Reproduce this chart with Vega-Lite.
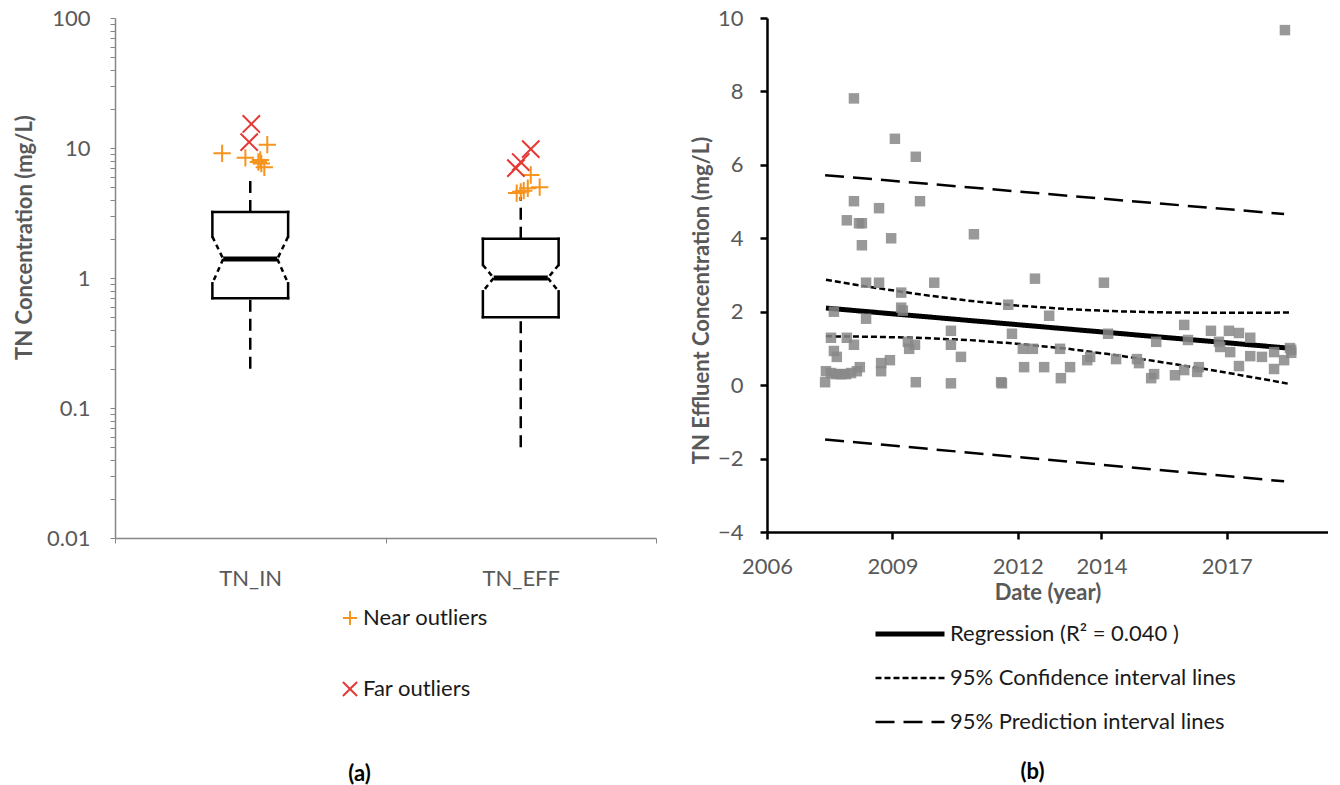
{
  "$schema": "https://vega.github.io/schema/vega-lite/v6.json",
  "autosize": {"type": "pad"},
  "padding": {"left": 13, "top": 7, "right": 0, "bottom": 0},
  "background": "white",
  "spacing": 111,
  "bounds": "flush",
  "config": {
    "view": {"stroke": null},
    "font": "Lato",
    "axis": {
      "grid": false,
      "labelFont": "Lato",
      "titleFont": "Lato",
      "labelColor": "#595959",
      "titleColor": "#595959",
      "labelFontSize": 22,
      "titleFontSize": 22,
      "titleFontWeight": "bold"
    },
    "legend": {"labelFont": "Lato", "labelFontSize": 22, "labelColor": "#1a1a1a", "labelLimit": 500}
  },
  "datasets": {
    "boxes": [
      {"group": "TN_IN", "wlo": 0.2, "q1": 0.7, "nlo": 0.91, "med": 1.4, "nhi": 2.08, "q3": 3.22, "whi": 6.2},
      {"group": "TN_EFF", "wlo": 0.05, "q1": 0.5, "nlo": 0.79, "med": 1.0, "nhi": 1.26, "q3": 2.0, "whi": 4.2}
    ],
    "outliers": [
      {"group": "TN_IN", "kind": "Near outliers", "value": 9.1, "jitter": -0.104},
      {"group": "TN_IN", "kind": "Near outliers", "value": 8.4, "jitter": -0.018},
      {"group": "TN_IN", "kind": "Near outliers", "value": 10.6, "jitter": 0.063},
      {"group": "TN_IN", "kind": "Near outliers", "value": 8.1, "jitter": 0.037},
      {"group": "TN_IN", "kind": "Near outliers", "value": 7.8, "jitter": 0.03},
      {"group": "TN_IN", "kind": "Near outliers", "value": 7.6, "jitter": 0.041},
      {"group": "TN_IN", "kind": "Near outliers", "value": 7.1, "jitter": 0.052},
      {"group": "TN_IN", "kind": "Far outliers", "value": 15.3, "jitter": 0.004},
      {"group": "TN_IN", "kind": "Far outliers", "value": 11.1, "jitter": -0.004},
      {"group": "TN_EFF", "kind": "Near outliers", "value": 6.2, "jitter": 0.037},
      {"group": "TN_EFF", "kind": "Near outliers", "value": 5.0, "jitter": 0.07},
      {"group": "TN_EFF", "kind": "Near outliers", "value": 4.9, "jitter": 0.026},
      {"group": "TN_EFF", "kind": "Near outliers", "value": 4.7, "jitter": 0.011},
      {"group": "TN_EFF", "kind": "Near outliers", "value": 4.6, "jitter": 0.0},
      {"group": "TN_EFF", "kind": "Near outliers", "value": 4.5, "jitter": -0.015},
      {"group": "TN_EFF", "kind": "Far outliers", "value": 9.8, "jitter": 0.037},
      {"group": "TN_EFF", "kind": "Far outliers", "value": 7.8, "jitter": 0.0},
      {"group": "TN_EFF", "kind": "Far outliers", "value": 7.0, "jitter": -0.018}
    ],
    "fits": [
      {"series": "Regression (R² = 0.040 )", "bound": "fit", "year": 2007.41, "tn": 2.1},
      {"series": "Regression (R² = 0.040 )", "bound": "fit", "year": 2018.56, "tn": 1.0},
      {"series": "95% Confidence interval lines", "bound": "upper", "year": 2007.41, "tn": 2.87},
      {"series": "95% Confidence interval lines", "bound": "upper", "year": 2008.42, "tn": 2.68},
      {"series": "95% Confidence interval lines", "bound": "upper", "year": 2009.61, "tn": 2.48},
      {"series": "95% Confidence interval lines", "bound": "upper", "year": 2010.81, "tn": 2.3},
      {"series": "95% Confidence interval lines", "bound": "upper", "year": 2011.96, "tn": 2.17},
      {"series": "95% Confidence interval lines", "bound": "upper", "year": 2013.2, "tn": 2.07},
      {"series": "95% Confidence interval lines", "bound": "upper", "year": 2014.4, "tn": 2.01},
      {"series": "95% Confidence interval lines", "bound": "upper", "year": 2015.59, "tn": 1.98},
      {"series": "95% Confidence interval lines", "bound": "upper", "year": 2016.79, "tn": 1.97},
      {"series": "95% Confidence interval lines", "bound": "upper", "year": 2017.99, "tn": 1.97},
      {"series": "95% Confidence interval lines", "bound": "upper", "year": 2018.51, "tn": 1.98},
      {"series": "95% Confidence interval lines", "bound": "lower", "year": 2007.41, "tn": 1.33},
      {"series": "95% Confidence interval lines", "bound": "lower", "year": 2008.42, "tn": 1.32},
      {"series": "95% Confidence interval lines", "bound": "lower", "year": 2009.61, "tn": 1.29},
      {"series": "95% Confidence interval lines", "bound": "lower", "year": 2010.81, "tn": 1.23},
      {"series": "95% Confidence interval lines", "bound": "lower", "year": 2011.96, "tn": 1.13},
      {"series": "95% Confidence interval lines", "bound": "lower", "year": 2013.2, "tn": 0.99},
      {"series": "95% Confidence interval lines", "bound": "lower", "year": 2014.4, "tn": 0.81},
      {"series": "95% Confidence interval lines", "bound": "lower", "year": 2015.59, "tn": 0.6},
      {"series": "95% Confidence interval lines", "bound": "lower", "year": 2016.79, "tn": 0.38},
      {"series": "95% Confidence interval lines", "bound": "lower", "year": 2017.99, "tn": 0.14},
      {"series": "95% Confidence interval lines", "bound": "lower", "year": 2018.51, "tn": 0.03},
      {"series": "95% Prediction interval lines", "bound": "upper", "year": 2007.39, "tn": 5.72},
      {"series": "95% Prediction interval lines", "bound": "upper", "year": 2018.37, "tn": 4.66},
      {"series": "95% Prediction interval lines", "bound": "lower", "year": 2007.39, "tn": -1.48},
      {"series": "95% Prediction interval lines", "bound": "lower", "year": 2018.37, "tn": -2.62}
    ],
    "samples": [
      {"year": 2007.39, "tn": 0.08}, {"year": 2007.41, "tn": 0.38}, {"year": 2007.53, "tn": 0.33},
      {"year": 2007.65, "tn": 0.3}, {"year": 2007.77, "tn": 0.3}, {"year": 2007.89, "tn": 0.3},
      {"year": 2008.01, "tn": 0.33}, {"year": 2007.53, "tn": 1.29}, {"year": 2007.91, "tn": 1.29},
      {"year": 2007.6, "tn": 2.0}, {"year": 2007.6, "tn": 0.93}, {"year": 2007.67, "tn": 0.77},
      {"year": 2008.08, "tn": 1.1}, {"year": 2008.08, "tn": 7.81}, {"year": 2008.08, "tn": 5.01},
      {"year": 2007.91, "tn": 4.49}, {"year": 2008.2, "tn": 4.41}, {"year": 2008.27, "tn": 4.41},
      {"year": 2008.27, "tn": 3.81}, {"year": 2008.15, "tn": 0.38}, {"year": 2008.22, "tn": 0.49},
      {"year": 2008.37, "tn": 2.79}, {"year": 2008.37, "tn": 1.81}, {"year": 2008.68, "tn": 4.82},
      {"year": 2008.68, "tn": 2.79}, {"year": 2008.73, "tn": 0.6}, {"year": 2008.73, "tn": 0.38},
      {"year": 2008.94, "tn": 0.68}, {"year": 2008.97, "tn": 4.0}, {"year": 2009.06, "tn": 6.71},
      {"year": 2009.21, "tn": 2.52}, {"year": 2009.21, "tn": 2.11}, {"year": 2009.25, "tn": 2.03},
      {"year": 2009.37, "tn": 1.18}, {"year": 2009.4, "tn": 0.99}, {"year": 2009.54, "tn": 1.1},
      {"year": 2009.56, "tn": 6.22}, {"year": 2009.56, "tn": 0.08}, {"year": 2009.66, "tn": 5.01},
      {"year": 2010.0, "tn": 2.79}, {"year": 2010.4, "tn": 1.48}, {"year": 2010.4, "tn": 1.1},
      {"year": 2010.4, "tn": 0.05}, {"year": 2010.64, "tn": 0.77}, {"year": 2010.95, "tn": 4.11},
      {"year": 2011.6, "tn": 0.08}, {"year": 2011.62, "tn": 0.05}, {"year": 2011.77, "tn": 2.19},
      {"year": 2011.86, "tn": 1.4}, {"year": 2012.12, "tn": 0.99}, {"year": 2012.36, "tn": 0.99},
      {"year": 2012.15, "tn": 0.49}, {"year": 2012.41, "tn": 2.9}, {"year": 2012.63, "tn": 0.49},
      {"year": 2012.75, "tn": 1.89}, {"year": 2013.01, "tn": 0.99}, {"year": 2013.03, "tn": 0.19},
      {"year": 2013.25, "tn": 0.49}, {"year": 2013.66, "tn": 0.68}, {"year": 2013.73, "tn": 0.77},
      {"year": 2014.06, "tn": 2.79}, {"year": 2014.16, "tn": 1.4}, {"year": 2014.35, "tn": 0.71},
      {"year": 2014.85, "tn": 0.71}, {"year": 2014.9, "tn": 0.6}, {"year": 2015.19, "tn": 0.19},
      {"year": 2015.26, "tn": 0.3}, {"year": 2015.31, "tn": 1.18}, {"year": 2015.76, "tn": 0.27},
      {"year": 2015.98, "tn": 1.64}, {"year": 2015.98, "tn": 0.41}, {"year": 2016.07, "tn": 1.23},
      {"year": 2016.29, "tn": 0.36}, {"year": 2016.33, "tn": 0.49}, {"year": 2016.62, "tn": 1.48},
      {"year": 2016.81, "tn": 1.18}, {"year": 2016.84, "tn": 1.04}, {"year": 2017.05, "tn": 1.48},
      {"year": 2017.08, "tn": 0.9}, {"year": 2017.29, "tn": 1.42}, {"year": 2017.29, "tn": 0.52},
      {"year": 2017.56, "tn": 1.29}, {"year": 2017.56, "tn": 0.79}, {"year": 2017.84, "tn": 0.77},
      {"year": 2018.13, "tn": 0.9}, {"year": 2018.13, "tn": 0.44}, {"year": 2018.37, "tn": 0.68},
      {"year": 2018.39, "tn": 9.67}, {"year": 2018.54, "tn": 0.96}, {"year": 2018.54, "tn": 0.88},
      {"year": 2018.51, "tn": 1.01}
    ]
  },
  "hconcat": [
    {
      "width": 541,
      "height": 520,
      "title": {"text": "(a)", "orient": "bottom", "anchor": "middle", "dx": -26, "offset": 175, "fontSize": 22, "fontWeight": "bold", "color": "#000000", "font": "Lato"},
      "layer": [
        {
          "data": {"name": "boxes"},
          "layer": [
            {
              "mark": {"type": "rule", "strokeDash": [12, 7], "strokeWidth": 2.5, "color": "black"},
              "encoding": {
                "x": {
                  "field": "group", "type": "nominal",
                  "scale": {"domain": ["TN_IN", "TN_EFF"], "paddingInner": 0, "paddingOuter": 0},
                  "axis": {"title": null, "labelAngle": 0, "domainColor": "#868686", "domainWidth": 1.5, "tickColor": "#868686", "tickBand": "extent", "tickSize": 5, "labelPadding": 25}
                },
                "y": {
                  "field": "wlo", "type": "quantitative",
                  "scale": {"type": "log", "domain": [0.01, 100], "nice": false},
                  "axis": {
                    "title": "TN Concentration (mg/L)",
                    "values": [0.01, 0.02, 0.03, 0.04, 0.05, 0.06, 0.07, 0.08, 0.09, 0.1, 0.2, 0.3, 0.4, 0.5, 0.6, 0.7, 0.8, 0.9, 1, 2, 3, 4, 5, 6, 7, 8, 9, 10, 20, 30, 40, 50, 60, 70, 80, 90, 100],
                    "format": "~g",
                    "labelExpr": "indexof([0.01, 0.1, 1, 10, 100], datum.value) >= 0 ? datum.label : ''",
                    "labelOverlap": false,
                    "labelFlush": false,
                    "tickSize": 5,
                    "tickColor": "#868686",
                    "domainColor": "#868686",
                    "domainWidth": 1.5,
                    "labelPadding": 20,
                    "titleX": -91,
                    "titleY": 219,
                    "titleBaseline": "middle"
                  }
                },
                "y2": {"field": "q1"}
              }
            },
            {
              "mark": {"type": "rule", "strokeDash": [12, 7], "strokeWidth": 2.5, "color": "black"},
              "encoding": {"x": {"field": "group", "type": "nominal"}, "y": {"field": "q3", "type": "quantitative"}, "y2": {"field": "whi"}}
            },
            {
              "mark": {"type": "rule", "strokeWidth": 2.5, "strokeCap": "square", "color": "black"},
              "encoding": {"x": {"field": "group", "type": "nominal", "bandPosition": 0.36}, "x2": {"field": "group", "bandPosition": 0.64}, "y": {"field": "q3", "type": "quantitative"}}
            },
            {
              "mark": {"type": "rule", "strokeWidth": 2.5, "strokeCap": "square", "color": "black"},
              "encoding": {"x": {"field": "group", "type": "nominal", "bandPosition": 0.36}, "x2": {"field": "group", "bandPosition": 0.64}, "y": {"field": "q1", "type": "quantitative"}}
            },
            {
              "mark": {"type": "rule", "strokeWidth": 2.5, "strokeCap": "square", "color": "black"},
              "encoding": {"x": {"field": "group", "type": "nominal", "bandPosition": 0.36}, "y": {"field": "q3", "type": "quantitative"}, "y2": {"field": "nhi"}}
            },
            {
              "mark": {"type": "rule", "strokeWidth": 2.5, "strokeCap": "square", "color": "black"},
              "encoding": {"x": {"field": "group", "type": "nominal", "bandPosition": 0.36}, "y": {"field": "nlo", "type": "quantitative"}, "y2": {"field": "q1"}}
            },
            {
              "mark": {"type": "rule", "strokeWidth": 2.5, "strokeCap": "square", "color": "black"},
              "encoding": {"x": {"field": "group", "type": "nominal", "bandPosition": 0.64}, "y": {"field": "q3", "type": "quantitative"}, "y2": {"field": "nhi"}}
            },
            {
              "mark": {"type": "rule", "strokeWidth": 2.5, "strokeCap": "square", "color": "black"},
              "encoding": {"x": {"field": "group", "type": "nominal", "bandPosition": 0.64}, "y": {"field": "nlo", "type": "quantitative"}, "y2": {"field": "q1"}}
            },
            {
              "mark": {"type": "rule", "strokeWidth": 2.5, "strokeDash": [5, 4], "color": "black"},
              "encoding": {"x": {"field": "group", "type": "nominal", "bandPosition": 0.36}, "y": {"field": "nhi", "type": "quantitative"}, "x2": {"field": "group", "bandPosition": 0.4}, "y2": {"field": "med"}}
            },
            {
              "mark": {"type": "rule", "strokeWidth": 2.5, "strokeDash": [5, 4], "color": "black"},
              "encoding": {"x": {"field": "group", "type": "nominal", "bandPosition": 0.4}, "y": {"field": "med", "type": "quantitative"}, "x2": {"field": "group", "bandPosition": 0.36}, "y2": {"field": "nlo"}}
            },
            {
              "mark": {"type": "rule", "strokeWidth": 2.5, "strokeDash": [5, 4], "color": "black"},
              "encoding": {"x": {"field": "group", "type": "nominal", "bandPosition": 0.64}, "y": {"field": "nhi", "type": "quantitative"}, "x2": {"field": "group", "bandPosition": 0.6}, "y2": {"field": "med"}}
            },
            {
              "mark": {"type": "rule", "strokeWidth": 2.5, "strokeDash": [5, 4], "color": "black"},
              "encoding": {"x": {"field": "group", "type": "nominal", "bandPosition": 0.6}, "y": {"field": "med", "type": "quantitative"}, "x2": {"field": "group", "bandPosition": 0.64}, "y2": {"field": "nlo"}}
            },
            {
              "mark": {"type": "rule", "strokeWidth": 5, "color": "black"},
              "encoding": {"x": {"field": "group", "type": "nominal", "bandPosition": 0.4}, "x2": {"field": "group", "bandPosition": 0.6}, "y": {"field": "med", "type": "quantitative"}}
            }
          ]
        },
        {
          "data": {"name": "outliers"},
          "mark": {"type": "point", "filled": false, "strokeWidth": 2, "size": 300, "opacity": 1},
          "encoding": {
            "x": {"field": "group", "type": "nominal"},
            "xOffset": {"field": "jitter", "type": "quantitative", "scale": {"domain": [-0.5, 0.5]}},
            "y": {"field": "value", "type": "quantitative"},
            "shape": {
              "field": "kind", "type": "nominal",
              "scale": {"domain": ["Near outliers", "Far outliers"], "range": ["M-1,0L1,0M0,-1L0,1", "M-1,-1L1,1M-1,1L1,-1"]},
              "legend": {"orient": "none", "legendX": 224, "legendY": 589, "title": null, "rowPadding": 47, "symbolSize": 200, "symbolStrokeWidth": 2, "symbolFillColor": "transparent", "labelOffset": 2, "padding": 0}
            },
            "color": {
              "field": "kind", "type": "nominal",
              "scale": {"domain": ["Near outliers", "Far outliers"], "range": ["#F7941D", "#E53935"]}
            }
          }
        }
      ]
    },
    {
      "width": 561,
      "height": 514,
      "title": {"text": "(b)", "orient": "bottom", "anchor": "middle", "dx": -15, "offset": 159, "fontSize": 22, "fontWeight": "bold", "color": "#000000", "font": "Lato"},
      "layer": [
        {
          "data": {"name": "fits"},
          "mark": {"type": "line", "color": "black"},
          "encoding": {
            "x": {
              "field": "year", "type": "quantitative",
              "scale": {"domain": [2006, 2019.42], "nice": false, "zero": false},
              "axis": {"title": "Date (year)", "values": [2006, 2009, 2012, 2014, 2017], "format": "d", "labelFlush": false, "domainColor": "black", "domainWidth": 2.5, "tickColor": "black", "tickWidth": 2.5, "tickSize": 7, "labelPadding": 17, "titlePadding": 5}
            },
            "y": {
              "field": "tn", "type": "quantitative",
              "scale": {"domain": [-4, 10], "nice": false, "zero": false},
              "axis": {"title": "TN Effluent Concentration (mg/L)", "values": [-4, -2, 0, 2, 4, 6, 8, 10], "labelFlush": false, "domainColor": "black", "domainWidth": 2.5, "tickColor": "black", "tickWidth": 2.5, "tickSize": 7, "labelPadding": 17, "titleX": -66, "titleY": 282, "titleBaseline": "middle"}
            },
            "detail": {"field": "bound", "type": "nominal"},
            "strokeDash": {
              "field": "series", "type": "nominal",
              "scale": {"domain": ["Regression (R² = 0.040 )", "95% Confidence interval lines", "95% Prediction interval lines"], "range": [[1, 0], [6, 3], [19, 9]]},
              "legend": {
                "orient": "none", "legendX": 784, "legendY": 605, "title": null,
                "symbolType": "stroke", "symbolSize": 4761, "symbolStrokeColor": "black", "symbolStrokeWidth": 2.5,
                "rowPadding": 22, "labelOffset": 29, "padding": 0,
                "encode": {"symbols": {"update": {"strokeWidth": {"signal": "datum.value === 'Regression (R² = 0.040 )' ? 5 : 2.5"}}}}
              }
            },
            "strokeWidth": {"condition": {"test": "datum.series === 'Regression (R² = 0.040 )'", "value": 5}, "value": 2.5}
          }
        },
        {
          "data": {"name": "samples"},
          "mark": {"type": "square", "size": 110, "color": "#878787", "opacity": 0.85},
          "encoding": {
            "x": {"field": "year", "type": "quantitative"},
            "y": {"field": "tn", "type": "quantitative"}
          }
        }
      ]
    }
  ]
}
